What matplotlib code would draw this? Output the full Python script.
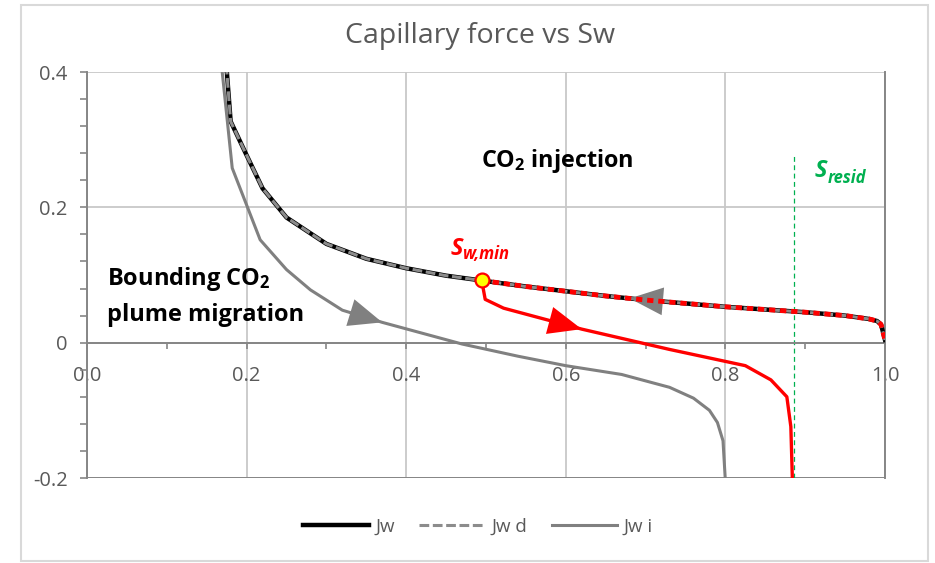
import matplotlib
matplotlib.use("Agg")
import matplotlib.pyplot as plt
import matplotlib.transforms as mtransforms
from matplotlib.patches import Rectangle
import numpy as np

plt.rcParams["font.family"] = ["Open Sans", "DejaVu Sans"]
plt.rcParams["mathtext.fontset"] = "custom"
plt.rcParams["mathtext.rm"] = "Open Sans"
plt.rcParams["mathtext.bf"] = "Open Sans:bold"
plt.rcParams["mathtext.it"] = "Open Sans:italic"
plt.rcParams["lines.scale_dashes"] = False

# drainage curve (Jw, Jw d share the same points)
sw = [0.172, 0.18, 0.20, 0.22, 0.25, 0.30, 0.35, 0.40, 0.45, 0.50, 0.55, 0.60,
      0.65, 0.70, 0.75, 0.80, 0.85, 0.90, 0.95, 0.98, 0.99, 0.995, 1.0]
jw = [0.45, 0.327, 0.277, 0.228, 0.185, 0.146, 0.124, 0.110, 0.099, 0.091, 0.083, 0.076,
      0.069, 0.063, 0.058, 0.053, 0.049, 0.045, 0.040, 0.035, 0.032, 0.027, 0.004]
jw_d = list(jw)

# bounding imbibition curve
sw_i = [0.165, 0.182, 0.217, 0.25, 0.28, 0.32, 0.37, 0.42, 0.47, 0.54, 0.60, 0.67,
        0.73, 0.76, 0.78, 0.79, 0.797, 0.80]
jw_i = [0.45, 0.258, 0.152, 0.108, 0.078, 0.048, 0.030, 0.014, -0.002, -0.020, -0.034, -0.047,
        -0.066, -0.082, -0.100, -0.118, -0.145, -0.205]

# scanning curve starting from Sw,min
sw_min, jw_min = 0.4946, 0.092
sw_s = [0.4946, 0.499, 0.522, 0.62, 0.73, 0.825, 0.857, 0.877, 0.882, 0.884]
jw_s = [0.092, 0.064, 0.051, 0.020, -0.010, -0.034, -0.055, -0.080, -0.124, -0.205]

s_resid = 0.886

AXIS = "#868686"
GRID = "#C8C8C8"
TXT = "#595959"
RED = "#FF0000"
GREEN = "#00B050"

fig = plt.figure(figsize=(9.35, 5.63), dpi=100)
ax = fig.add_axes([87 / 935, 1 - 478 / 563, 798 / 935, 406 / 563])

ax.plot(sw, jw, color="black", lw=3.2, zorder=3, label="Jw")
ax.plot(sw, jw_d, color="#8C8C8C", lw=2.2, dashes=(7.0, 2.6), zorder=4, label="Jw d")
ax.plot(sw_i, jw_i, color="#808080", lw=2.2, zorder=3, label="Jw i")

ax.plot(sw_s, jw_s, color=RED, lw=2.4, zorder=5)

# red dotted retrace of the drainage curve from Sw,min to 1.0
sw_rd = [sw_min] + [s for s in sw if s > sw_min]
jw_rd = [jw_min] + [j for s, j in zip(sw, jw) if s > sw_min]
dotted, = ax.plot(sw_rd, jw_rd, color=RED, lw=3.5, zorder=8)
dotted.set_dashes([4.5, 3.5])
dotted.set_dash_capstyle("butt")
ax.plot([sw_min], [jw_min], "o", ms=10, mfc="#FFFF00", mec=RED, mew=1.6, zorder=9)

ax.plot([s_resid, s_resid], [-0.2, 0.28], color=GREEN, lw=0.9, dashes=(3.5, 2.5), zorder=2)

# direction arrows
def head(tail, tip, color):
    ax.annotate("", xy=tip, xytext=tail, zorder=5,
                arrowprops=dict(arrowstyle="-|>,head_length=24,head_width=10",
                                mutation_scale=1, color=color, lw=0,
                                shrinkA=0, shrinkB=0))

head((sw_i[5], jw_i[5]), (sw_i[6], jw_i[6]), "#808080")
head((sw_s[2], jw_s[2]), (sw_s[3], jw_s[3]), RED)
head((0.78, np.interp(0.78, sw, jw)), (0.68, np.interp(0.68, sw, jw)), "#808080")

ax.set_xlim(0, 1)
ax.set_ylim(-0.2, 0.4)
ax.set_xticks([0.0, 0.2, 0.4, 0.6, 0.8, 1.0])
ax.set_xticklabels(["0.0", "0.2", "0.4", "0.6", "0.8", "1.0"])
ax.set_xticks(np.arange(0.1, 1.0, 0.2), minor=True)
ax.set_yticks([-0.2, 0.0, 0.2, 0.4])
ax.set_yticklabels(["-0.2", "0", "0.2", "0.4"])
ax.set_yticks(np.arange(-0.2, 0.41, 0.04), minor=True)

ax.grid(True, which="major", color=GRID, lw=1.3, zorder=0)
ax.set_axisbelow(True)
for side in ["left", "bottom", "right"]:
    ax.spines[side].set_color(AXIS)
    ax.spines[side].set_linewidth(1.4)
ax.spines["top"].set_visible(False)
ax.spines["bottom"].set_position(("data", 0))
ax.axhline(-0.2, color=AXIS, lw=1.4, zorder=1)

ax.tick_params(axis="x", which="both", direction="out", length=4, width=1.2, color=AXIS,
               labelsize=14.5, labelcolor=TXT, pad=13)
ax.tick_params(axis="y", which="both", direction="out", length=5, width=1.2, color=AXIS,
               labelsize=14.5, labelcolor=TXT, pad=9)
ax.tick_params(axis="x", which="minor", labelbottom=False)

# labels
ax.text(0.4937, 0.26, r"CO$_\mathbf{2}$ injection", fontsize=16.8, fontweight="bold",
        color="black", va="baseline", ha="left")
ax.text(0.025, 0.0856, r"Bounding CO$_\mathbf{2}$", fontsize=17, fontweight="bold",
        color="black", va="baseline", ha="left")
ax.text(0.025, 0.032, "plume migration", fontsize=17, fontweight="bold",
        color="black", va="baseline", ha="left")

def sub_label(x, y, main, sub, color, dx, dy):
    ax.text(x, y, main, fontsize=17, fontweight="bold", style="italic", color=color,
            va="baseline", ha="left")
    tr = mtransforms.offset_copy(ax.transData, fig=fig, x=dx, y=dy, units="points")
    ax.text(x, y, sub, fontsize=12, fontweight="bold", style="italic", color=color,
            va="baseline", ha="left", transform=tr)

sub_label(0.455, 0.13, "S", "w,min", RED, 9.6, -3)
sub_label(0.912, 0.245, "S", "resid", GREEN, 9.0, -4.3)

fig.text(480 / 935, 1 - 43 / 563, "Capillary force vs Sw", fontsize=20.5, color=TXT,
         ha="center", va="baseline")

handles, labels = ax.get_legend_handles_labels()
fig.legend(handles, labels, loc="center", bbox_to_anchor=(478 / 935, 1 - 527 / 563),
           ncol=3, frameon=False, fontsize=13.5, labelcolor=TXT, handlelength=3.5,
           handletextpad=0.35, columnspacing=1.3)

fig.patches.append(Rectangle((21 / 935, 1 - 561 / 563), 907 / 935, 556 / 563,
                             transform=fig.transFigure, fill=False,
                             edgecolor="#D9D9D9", lw=1.5))

fig.savefig("out.png", dpi=100)
